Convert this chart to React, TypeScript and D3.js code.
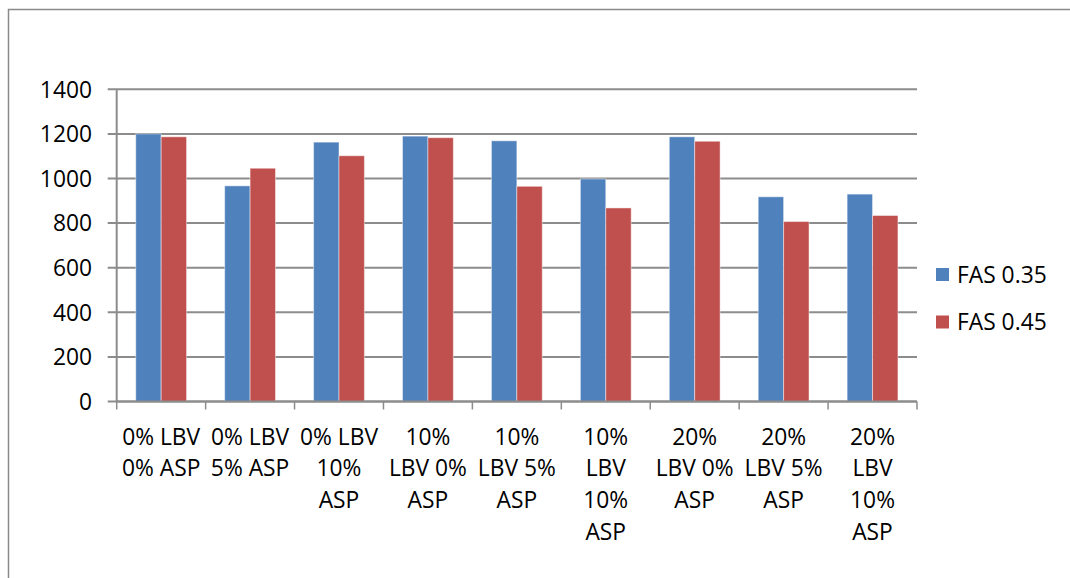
import React from "react";
import * as d3 from "d3";

// Mix categories (line breaks mark how each label wraps under its bar group)
const categories: string[] = [
  "0% LBV\n0% ASP",
  "0% LBV\n5% ASP",
  "0% LBV\n10%\nASP",
  "10%\nLBV 0%\nASP",
  "10%\nLBV 5%\nASP",
  "10%\nLBV\n10%\nASP",
  "20%\nLBV 0%\nASP",
  "20%\nLBV 5%\nASP",
  "20%\nLBV\n10%\nASP",
];

const seriesNames: string[] = ["FAS 0.35", "FAS 0.45"];

const fas035: number[] = [1200, 967, 1163, 1190, 1169, 998, 1187, 918, 930];
const fas045: number[] = [1187, 1046, 1102, 1183, 965, 868, 1167, 807, 834];

const yTicks: number[] = [0, 200, 400, 600, 800, 1000, 1200, 1400];

const colors: string[] = ["#4F81BD", "#C0504D"];

const W = 1070;
const H = 578;
const plot = { left: 116.7, right: 917, top: 89.3, bottom: 401.5 };
const FONT = "'Open Sans', 'Noto Sans', sans-serif";
const FS = 22.8;

export default function App() {
  const series = [fas035, fas045];

  const x = d3
    .scaleBand<number>()
    .domain(d3.range(categories.length))
    .range([plot.left, plot.right])
    .paddingInner(0)
    .paddingOuter(0);

  // Excel-style clustered bars: gap width 150% of a single bar
  const barW = x.bandwidth() / (series.length + 1.5);
  const groupOffset = (x.bandwidth() - series.length * barW) / 2;

  const y = d3.scaleLinear().domain([0, 1400]).range([plot.bottom, plot.top]);

  const gridColor = "#8c8c8c";
  const boundaries = d3.range(categories.length + 1).map((i) =>
    i < categories.length ? (x(i) as number) : plot.right
  );

  return (
    <svg
      width={W}
      height={H}
      style={{ position: "absolute", left: 0, top: 0, background: "#fff" }}
      fontFamily={FONT}
    >
      {/* chart frame */}
      <rect x={8.5} y={9.5} width={W + 10} height={H + 10} fill="none" stroke="#8a8a8a" strokeWidth={1.5} />

      {/* horizontal gridlines */}
      {yTicks.map((t) => (
        <line
          key={"g" + t}
          x1={plot.left - 9}
          x2={plot.right}
          y1={y(t)}
          y2={y(t)}
          stroke={gridColor}
          strokeWidth={2}
        />
      ))}

      {/* y axis line */}
      <line x1={plot.left} x2={plot.left} y1={plot.top} y2={plot.bottom} stroke={gridColor} strokeWidth={2} />

      {/* bars */}
      {series.map((vals, s) =>
        vals.map((v, i) => (
          <rect
            key={`b${s}-${i}`}
            x={(x(i) as number) + groupOffset + s * barW}
            y={y(v)}
            width={barW}
            height={y(0) - y(v)}
            fill={colors[s]}
            stroke="#ffffff"
            strokeOpacity={0.45}
            strokeWidth={1}
          />
        ))
      )}

      {/* x axis line and category tick marks */}
      <line x1={plot.left} x2={plot.right} y1={plot.bottom} y2={plot.bottom} stroke={gridColor} strokeWidth={2} />
      {boundaries.map((bx, i) => (
        <line key={"xt" + i} x1={bx} x2={bx} y1={plot.bottom} y2={plot.bottom + 8} stroke={gridColor} strokeWidth={1.5} />
      ))}

      {/* y tick labels */}
      {yTicks.map((t) => (
        <text
          key={"yl" + t}
          x={92}
          y={y(t)}
          dy="0.36em"
          textAnchor="end"
          fontSize={FS}
          fill="#000"
        >
          {t}
        </text>
      ))}

      {/* category labels */}
      {categories.map((c, i) => {
        const cx = (x(i) as number) + x.bandwidth() / 2;
        return (
          <text key={"xl" + i} x={cx} y={444.5} textAnchor="middle" fontSize={FS} fill="#000">
            {c.split("\n").map((line, k) => (
              <tspan key={k} x={cx} y={444.5 + k * 31.7}>
                {line}
              </tspan>
            ))}
          </text>
        );
      })}

      {/* legend */}
      {seriesNames.map((name, s) => {
        const cy = 274.5 + s * 47.5;
        return (
          <g key={"lg" + s}>
            <rect x={936} y={cy - 6.5} width={13} height={13} fill={colors[s]} />
            <text x={957} y={cy} dy="0.36em" fontSize={FS} fill="#000">
              {name}
            </text>
          </g>
        );
      })}
    </svg>
  );
}
